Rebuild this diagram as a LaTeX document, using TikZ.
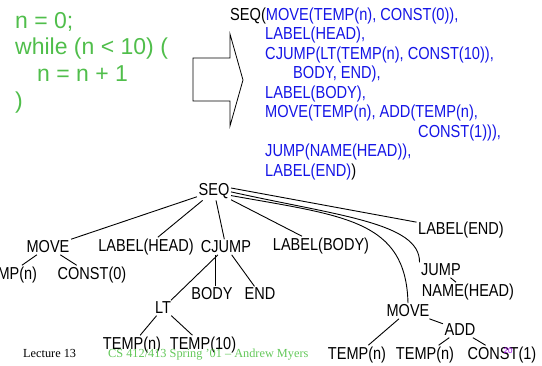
\documentclass[tikz,border=0pt]{standalone}
\usepackage{fontspec}
\setmainfont{Liberation Sans}
\newfontfamily\narrowfont[FakeStretch=0.84]{Liberation Sans}
\newfontfamily\footfont{Liberation Serif}
\definecolor{codegreen}{RGB}{80,190,75}
\definecolor{irblue}{RGB}{20,20,230}
\definecolor{footgreen}{RGB}{100,200,90}
\definecolor{pagepurple}{RGB}{160,0,230}
\begin{document}
\begin{tikzpicture}[x=1pt,y=-1pt,
  tn/.style={inner sep=1.5pt, font=\narrowfont\fontsize{17.3}{20}\selectfont},
  ir/.style={anchor=base west, inner sep=0pt, text=irblue, font=\narrowfont\fontsize{17.4}{20}\selectfont},
  code/.style={anchor=base west, inner sep=0pt, text=codegreen, font=\fontsize{23}{27}\selectfont},
  edge/.style={draw=black, line width=0.9pt},
  foot/.style={anchor=base west, inner sep=0pt, font=\footfont\fontsize{12.3}{14}\selectfont}]
\useasboundingbox (0,0) rectangle (542,365);

% source code
\node[code] (c1) at (15,28) {n = 0;};
\node[code] (c2) at (15,54) {while (n < 10) (};
\node[code] (c3) at (37,81) {n = n + 1};
\node[code] (c4) at (15,108) {)};

% big arrow
\draw[line width=0.8pt] (193,58) -- (230,58) -- (230,34) -- (243,80) -- (230,126) -- (230,101) -- (193,101) -- cycle;

% IR text
\node[ir] (i1) at (230,20) {\textcolor{black}{SEQ(}MOVE(TEMP(n), CONST(0)),};
\node[ir] (i2) at (265,39.5) {LABEL(HEAD),};
\node[ir] (i3) at (265,59) {CJUMP(LT(TEMP(n), CONST(10)),};
\node[ir] (i4) at (293,78.5) {BODY, END),};
\node[ir] (i5) at (265,98) {LABEL(BODY),};
\node[ir] (i6) at (265,117.5) {MOVE(TEMP(n), ADD(TEMP(n),};
\node[ir] (i7) at (418,137) {CONST(1))),};
\node[ir] (i8) at (265,156.5) {JUMP(NAME(HEAD)),};
\node[ir] (i9) at (265,176) {LABEL(END)\textcolor{black}{)}};

% tree
\node[tn] (seq) at (214,191) {SEQ};
\node[tn] (mv1) at (48,247) {MOVE};
\node[tn] (lh) at (146,247) {LABEL(HEAD)};
\node[tn] (cj) at (226,247) {CJUMP};
\node[tn] (lb) at (321,246) {LABEL(BODY)};
\node[tn] (le) at (461,230) {LABEL(END)};
\node[tn] (jmp) at (441,270) {JUMP};
\node[tn] (nm) at (468,292) {NAME(HEAD)};
\node[tn] (mv2) at (408,311) {MOVE};
\node[tn] (add) at (460,330) {ADD};
\node[tn] (t3) at (357,355) {TEMP(n)};
\node[tn] (t4) at (425,355) {TEMP(n)};
\node[tn] (c1t) at (502,355) {CONST(1)};
\node[tn] (t1) at (8,275) {TEMP(n)};
\node[tn] (c0) at (92,275) {CONST(0)};
\node[tn] (bd) at (212,294) {BODY};
\node[tn] (en) at (260,294) {END};
\node[tn] (lt) at (163,308) {LT};
\node[tn] (t2) at (132,345) {TEMP(n)};
\node[tn] (t10) at (203,345) {TEMP(10)};

\draw[edge] (seq) -- (mv1);
\draw[edge] (seq) -- (lh);
\draw[edge] (seq) -- (cj);
\draw[edge] (seq) -- (lb);
\draw[edge] (seq.10) -- (le.170);
\draw[edge] (seq.-3) .. controls (340,216) and (420,223) .. (jmp.north west);
\draw[edge] (seq.-15) .. controls (345,216) and (406,220) .. (mv2.north);
\draw[edge] (mv1) -- (t1);
\draw[edge] (mv1) -- (c0);
\draw[edge] (cj) -- (lt);
\draw[edge] (cj.south west) ++(16,0) coordinate (cjb) -- (cjb |- bd.north);
\draw[edge] (cj) -- (en);
\draw[edge] (lt) -- (t2);
\draw[edge] (lt) -- (t10);
\draw[edge] (jmp) -- (nm);
\draw[edge] (mv2) -- (t3);
\draw[edge] (mv2) -- (add);
\draw[edge] (add) -- (t4);
\draw[edge] (add) -- (c1t);

% footer
\node[foot] (lec) at (23,357) {Lecture 13};
\node[foot, text=footgreen] (course) at (108,357) {CS 412/413 Spring ’01 – Andrew Myers};
\node[inner sep=0pt, text=pagepurple, font=\fontsize{8}{9}\selectfont] (pg) at (508,351) {20};
\end{tikzpicture}
\end{document}
